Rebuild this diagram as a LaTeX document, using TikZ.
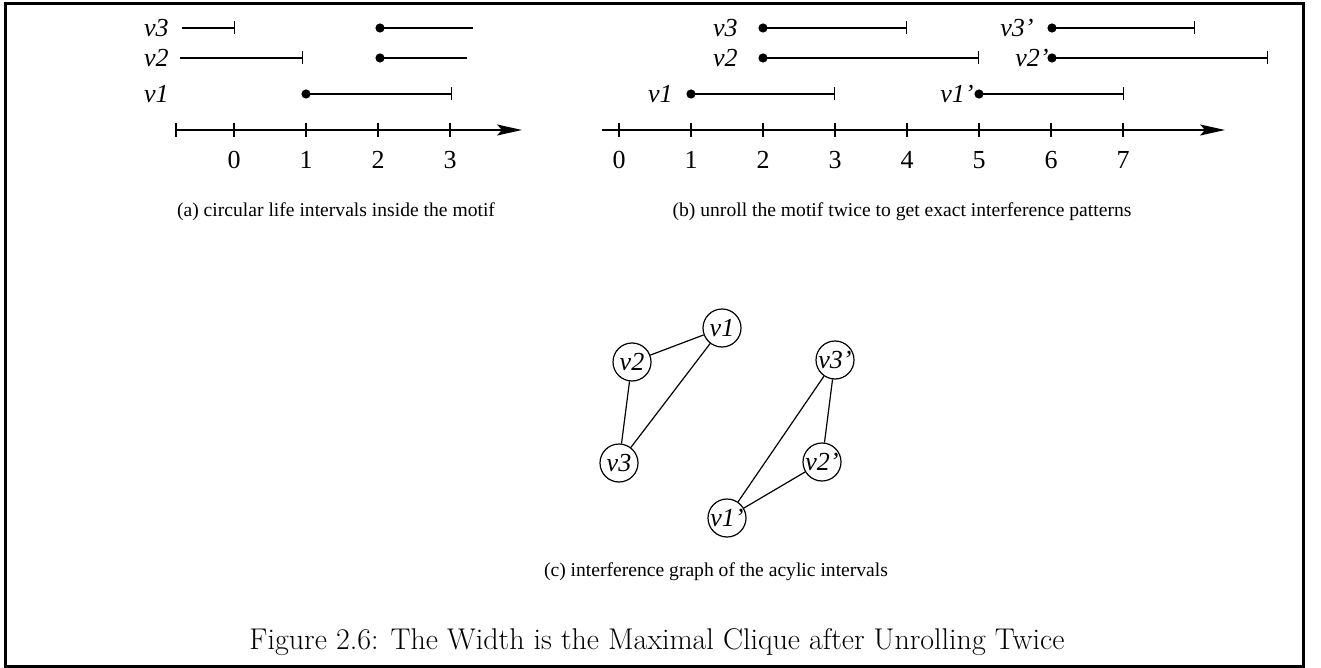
\documentclass[tikz,border=0pt]{standalone}
\usepackage{fontspec}
\newfontfamily\tnr{Liberation Serif}
\usetikzlibrary{arrows.meta}
\begin{document}
\begin{tikzpicture}[x=0.5pt,y=-0.5pt,
  lbl/.style={font=\tnr\itshape\fontsize{13}{15}\selectfont, inner sep=0pt},
  num/.style={font=\tnr\fontsize{13}{15}\selectfont, inner sep=0pt},
  sub/.style={font=\tnr\fontsize{9.8}{12}\selectfont, inner sep=0pt},
  axisline/.style={line width=0.6pt, -{Stealth[length=12.5pt,width=5.5pt,inset=2.5pt]}},
  tickline/.style={line width=0.6pt},
  seg/.style={line width=0.6pt},
  segbar/.style={line width=0.6pt, -{Bar[width=6.5pt,line width=0.6pt]}},
  dot/.style={circle, fill, inner sep=0pt, minimum size=4.6pt},
  vtx/.style={circle, draw, line width=0.6pt, inner sep=0pt, minimum size=19pt,
              font=\tnr\itshape\fontsize{13}{15}\selectfont},
  edge/.style={line width=0.6pt}]
\useasboundingbox (0,0) rectangle (1321,668);
\draw[line width=1.5pt] (5,4) rectangle (1303,666);

% ---------- panel (a) ----------
\coordinate (aS) at (176,130);
\coordinate (aE) at (522,130);
\draw[axisline] (aS) -- (aE);
\draw[tickline] (176,123) -- (176,137);
\foreach \x/\n in {234/0,306/1,378/2,450/3}{
  \draw[tickline] (\x,123) -- (\x,137);
  \node[num] (an\n) at (\x,160) {\n};
}
% v3
\node[lbl, anchor=east] (alv3) at (169,28) {v3};
\coordinate (a3s) at (182,28); \coordinate (a3e) at (235,28);
\draw[segbar] (a3s) -- (a3e);
\node[dot] (a3d) at (380,28) {};
\coordinate (a3f) at (473,28);
\draw[seg] (a3d.center) -- (a3f);
% v2
\node[lbl, anchor=east] (alv2) at (169,58) {v2};
\coordinate (a2s) at (180,58); \coordinate (a2e) at (303,58);
\draw[segbar] (a2s) -- (a2e);
\node[dot] (a2d) at (380,58) {};
\coordinate (a2f) at (467,58);
\draw[seg] (a2d.center) -- (a2f);
% v1
\node[lbl, anchor=east] (alv1) at (169,94) {v1};
\node[dot] (a1d) at (306,94) {};
\coordinate (a1e) at (452,94);
\draw[segbar] (a1d.center) -- (a1e);
\node[sub] (capa) at (336,212) {(a) circular life intervals inside the motif};

% ---------- panel (b) ----------
\coordinate (bS) at (602,130);
\coordinate (bE) at (1225,130);
\draw[axisline] (bS) -- (bE);
\foreach \x/\n in {619/0,691/1,763/2,835/3,907/4,979/5,1051/6,1123/7}{
  \draw[tickline] (\x,123) -- (\x,137);
  \node[num] (bn\n) at (\x,160) {\n};
}
% v3
\node[lbl, anchor=east] (blv3) at (738,28) {v3};
\node[dot] (b3d) at (763,28) {};
\coordinate (b3e) at (907,28);
\draw[segbar] (b3d.center) -- (b3e);
% v2
\node[lbl, anchor=east] (blv2) at (738,58) {v2};
\node[dot] (b2d) at (763,58) {};
\coordinate (b2e) at (979,58);
\draw[segbar] (b2d.center) -- (b2e);
% v1
\node[lbl, anchor=east] (blv1) at (673,94) {v1};
\node[dot] (b1d) at (691,94) {};
\coordinate (b1e) at (835,94);
\draw[segbar] (b1d.center) -- (b1e);
% v1'
\node[lbl, anchor=east] (blv1p) at (974,94) {v1’};
\node[dot] (b1pd) at (979,94) {};
\coordinate (b1pe) at (1124,94);
\draw[segbar] (b1pd.center) -- (b1pe);
% v3'
\node[lbl, anchor=east] (blv3p) at (1034,28) {v3’};
\node[dot] (b3pd) at (1052,28) {};
\coordinate (b3pe) at (1195,28);
\draw[segbar] (b3pd.center) -- (b3pe);
% v2'
\node[lbl, anchor=east] (blv2p) at (1049,58) {v2’};
\node[dot] (b2pd) at (1052,58) {};
\coordinate (b2pe) at (1268,58);
\draw[segbar] (b2pd.center) -- (b2pe);
\node[sub] (capb) at (902,212) {(b) unroll the motif twice to get exact interference patterns};

% ---------- panel (c) ----------
\node[vtx] (g1) at (722,328) {v1};
\node[vtx] (g2) at (632,362) {v2};
\node[vtx] (g3) at (619,463) {v3};
\node[vtx] (g3p) at (835,360) {v3’};
\node[vtx] (g2p) at (822,462) {v2’};
\node[vtx] (g1p) at (727,518) {v1’};
\draw[edge] (g1) -- (g2);
\draw[edge] (g1) -- (g3);
\draw[edge] (g2) -- (g3);
\draw[edge] (g3p) -- (g2p);
\draw[edge] (g3p) -- (g1p);
\draw[edge] (g2p) -- (g1p);
\node[sub] (capc) at (716,572) {(c) interference graph of the acylic intervals};

% ---------- figure caption ----------
\node[inner sep=0pt, font=\fontsize{15}{18}\selectfont] (fig) at (657,642)
  {Figure 2.6: The Width is the Maximal Clique after Unrolling Twice};
\end{tikzpicture}
\end{document}
